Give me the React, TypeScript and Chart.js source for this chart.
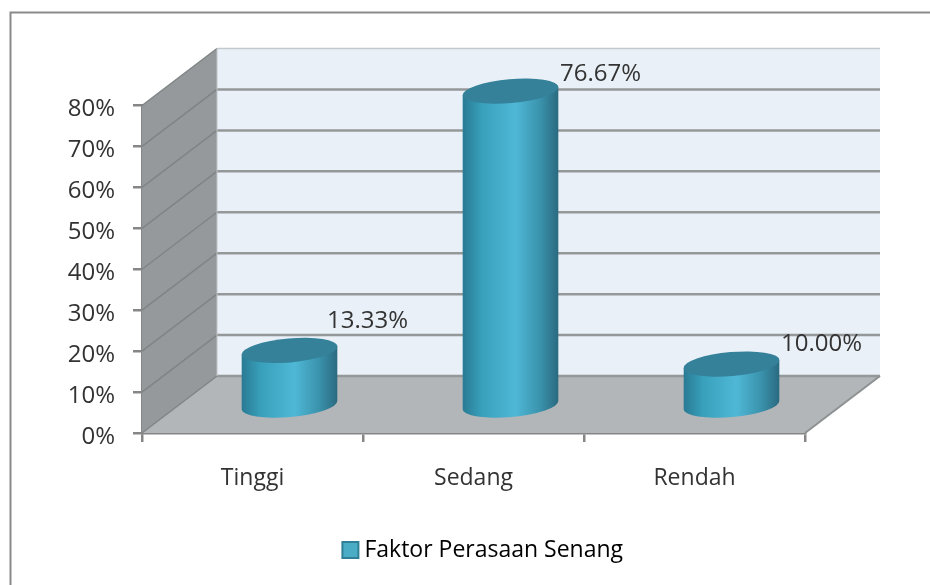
import React, { useEffect, useRef } from "react";
import { Chart, registerables } from "chart.js";

Chart.register(...registerables);

const categories = ["Tinggi", "Sedang", "Rendah"];
const seriesName = "Faktor Perasaan Senang";
const values = [13.33, 76.67, 10.0];
const valueLabels = ["13.33%", "76.67%", "10.00%"];
const labelOffsetX = [78, 90, 90];
const labelOffsetY = [-29, -17, -20];

const FONT = "'Open Sans', sans-serif";
const DEPTH_X = 75;
const DEPTH_Y = 57;
const CYL_X = 37;
const CYL_Y = 28;

function drawCylinder(ctx: CanvasRenderingContext2D, cx: number, topY: number, baseY: number) {
  const rx = 48;
  const ry = 12;
  const rot = (-5 * Math.PI) / 180;
  const dx = rx * Math.cos(rot);
  const dy = rx * Math.sin(rot);
  const g = ctx.createLinearGradient(cx - dx, 0, cx + dx, 0);
  g.addColorStop(0, "#2a7a93");
  g.addColorStop(0.2, "#38a0bb");
  g.addColorStop(0.55, "#4fb8d6");
  g.addColorStop(0.8, "#3b94ae");
  g.addColorStop(1, "#2a6a80");
  ctx.beginPath();
  ctx.ellipse(cx, baseY, rx, ry, rot, 0, Math.PI);
  ctx.lineTo(cx - dx, topY - dy);
  ctx.lineTo(cx + dx, topY + dy);
  ctx.closePath();
  ctx.fillStyle = g;
  ctx.fill();
  ctx.beginPath();
  ctx.ellipse(cx, topY, rx, ry, rot, 0, Math.PI * 2);
  ctx.fillStyle = "#35819a";
  ctx.fill();
}

const scene3d = {
  id: "scene3d",
  afterLayout(chart: any) {
    if (chart.legend) {
      chart.legend.left += 83;
      chart.legend.right += 83;
    }
    const y = chart.scales.y;
    if (!y.__shifted) {
      y.__shifted = true;
      const orig = y.drawLabels;
      y.drawLabels = function (area: any) {
        chart.ctx.save();
        chart.ctx.translate(0, 4);
        orig.call(this, area);
        chart.ctx.restore();
      };
    }
  },
  beforeDraw(chart: any) {
    const { ctx } = chart;
    ctx.save();
    ctx.strokeStyle = "#8a8a8a";
    ctx.lineWidth = 2;
    ctx.beginPath();
    ctx.moveTo(10.5, 585);
    ctx.lineTo(10.5, 12.5);
    ctx.lineTo(930, 12.5);
    ctx.stroke();
    ctx.restore();
  },
  beforeDatasetsDraw(chart: any) {
    const { ctx, chartArea: a, scales } = chart;
    const y = scales.y;
    ctx.save();
    // back wall
    ctx.fillStyle = "#e9f0f7";
    ctx.fillRect(a.left + DEPTH_X, a.top - DEPTH_Y, a.right - a.left, a.bottom - a.top);
    // side wall
    ctx.fillStyle = "#95999b";
    ctx.beginPath();
    ctx.moveTo(a.left, a.top);
    ctx.lineTo(a.left + DEPTH_X, a.top - DEPTH_Y);
    ctx.lineTo(a.left + DEPTH_X, a.bottom - DEPTH_Y);
    ctx.lineTo(a.left, a.bottom);
    ctx.closePath();
    ctx.fill();
    // floor
    ctx.fillStyle = "#b2b6b9";
    ctx.beginPath();
    ctx.moveTo(a.left, a.bottom);
    ctx.lineTo(a.right, a.bottom);
    ctx.lineTo(a.right + DEPTH_X, a.bottom - DEPTH_Y);
    ctx.lineTo(a.left + DEPTH_X, a.bottom - DEPTH_Y);
    ctx.closePath();
    ctx.fill();
    // grid lines from the scale's ticks
    y.ticks.forEach((t: any) => {
      const py = y.getPixelForValue(t.value);
      ctx.strokeStyle = "#7f8485";
      ctx.lineWidth = 1.5;
      ctx.beginPath();
      ctx.moveTo(a.left, py);
      ctx.lineTo(a.left + DEPTH_X, py - DEPTH_Y);
      ctx.stroke();
      ctx.strokeStyle = t.value === 80 ? "#c3c8cc" : "#949899";
      ctx.lineWidth = t.value === 80 ? 1.5 : 2.5;
      ctx.beginPath();
      ctx.moveTo(a.left + DEPTH_X, py - DEPTH_Y);
      ctx.lineTo(a.right + DEPTH_X, py - DEPTH_Y);
      ctx.stroke();
    });
    ctx.strokeStyle = "#c0c4c7";
    ctx.lineWidth = 1;
    ctx.beginPath();
    ctx.moveTo(a.left + DEPTH_X, a.top - DEPTH_Y);
    ctx.lineTo(a.left + DEPTH_X, a.bottom - DEPTH_Y);
    ctx.stroke();
    ctx.strokeStyle = "#8d9192";
    ctx.lineWidth = 2;
    ctx.beginPath();
    ctx.moveTo(a.right, a.bottom);
    ctx.lineTo(a.right + DEPTH_X, a.bottom - DEPTH_Y);
    ctx.stroke();
    ctx.restore();
  },
  afterDatasetsDraw(chart: any) {
    const { ctx, scales } = chart;
    const meta = chart.getDatasetMeta(0);
    const zero = scales.y.getPixelForValue(0);
    ctx.save();
    meta.data.forEach((el: any) => {
      drawCylinder(ctx, el.x + CYL_X, el.y - CYL_Y, zero - CYL_Y);
    });
    ctx.fillStyle = "#333333";
    ctx.font = `24px ${FONT}`;
    ctx.textAlign = "center";
    ctx.textBaseline = "middle";
    meta.data.forEach((el: any, i: number) => {
      ctx.fillText(valueLabels[i], el.x + CYL_X + labelOffsetX[i], el.y - CYL_Y + labelOffsetY[i]);
    });
    ctx.restore();
  },
};

export default function App() {
  const ref = useRef<HTMLCanvasElement>(null);
  useEffect(() => {
    const chart = new Chart(ref.current!, {
      type: "bar",
      data: {
        labels: categories,
        datasets: [
          {
            label: seriesName,
            data: values,
            backgroundColor: "transparent",
            borderWidth: 0,
          },
        ],
      },
      plugins: [scene3d],
      options: {
        responsive: false,
        animation: false,
        layout: { padding: { left: 0, top: 105.5, right: 125, bottom: 13.5 } },
        scales: {
          x: {
            offset: true,
            grid: {
              offset: true,
              drawOnChartArea: false,
              color: "#868686",
              lineWidth: 2.5,
              tickLength: 9,
            },
            border: { color: "#868686", width: 2.5 },
            ticks: { color: "#333333", font: { family: FONT, size: 23 }, padding: 23 },
            afterFit(s: any) {
              s.height = 95.5;
            },
          },
          y: {
            min: 0,
            max: 80,
            grid: {
              drawOnChartArea: false,
              color: "#868686",
              lineWidth: 2.5,
              tickLength: 9,
            },
            border: { color: "#868686", width: 2.5 },
            ticks: {
              stepSize: 10,
              color: "#333333",
              padding: 18,
              font: { family: FONT, size: 24 },
              callback: (v: any) => `${v}%`,
            },
            afterFit(s: any) {
              s.width = 142;
            },
          },
        },
        plugins: {
          tooltip: { enabled: false },
          legend: {
            position: "bottom",
            labels: {
              color: "#333333",
              usePointStyle: true,
              boxWidth: 5,
              boxHeight: 16,
              padding: 10,
              font: { family: FONT, size: 23 },
              generateLabels: () => [
                {
                  text: seriesName,
                  fillStyle: "#4bacc6",
                  strokeStyle: "#2f7f97",
                  lineWidth: 2,
                  pointStyle: "rect",
                  datasetIndex: 0,
                },
              ],
            },
          },
        },
      },
    } as any);
    return () => chart.destroy();
  }, []);
  return (
    <div style={{ position: "fixed", left: 0, top: 0, width: 930, height: 585, background: "#fff" }}>
      <canvas ref={ref} width={930} height={585} style={{ display: "block", filter: "blur(0.4px)" }} />
    </div>
  );
}
